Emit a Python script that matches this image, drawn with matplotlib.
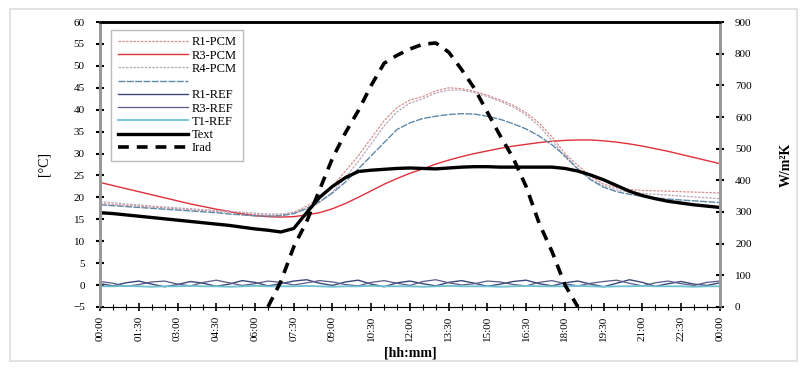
import numpy as np
import matplotlib
matplotlib.use("Agg")
from matplotlib import pyplot as plt
from matplotlib.patches import Rectangle

# half-hour steps, 00:00 .. 24:00
hours = np.arange(0, 24.5, 0.5)

r1_pcm = [18.6, 18.4, 18.2, 18.0, 17.8, 17.6, 17.4, 17.2, 17.0, 16.8, 16.6, 16.4, 16.1,
          15.9, 16.0, 16.6, 18.0, 19.8, 22.5, 26.0, 29.5, 33.5, 37.5, 40.5, 42.2, 43.0,
          44.3, 45.0, 44.8, 44.2, 43.3, 42.2, 41.0, 39.3, 37.0, 33.8, 30.0, 27.3, 24.8,
          23.0, 22.2, 21.8, 21.6, 21.5, 21.4, 21.3, 21.2, 21.1, 21.0]
r3_pcm = [23.4, 22.7, 22.0, 21.3, 20.6, 19.9, 19.2, 18.5, 17.9, 17.3, 16.8, 16.2, 15.8,
          15.6, 15.5, 15.6, 16.0, 16.5, 17.4, 18.6, 20.0, 21.5, 23.0, 24.3, 25.5, 26.5,
          27.6, 28.5, 29.3, 30.0, 30.6, 31.2, 31.7, 32.1, 32.5, 32.8, 33.0, 33.1, 33.1,
          32.9, 32.6, 32.2, 31.7, 31.1, 30.5, 29.8, 29.1, 28.4, 27.7]
r4_pcm = [19.0, 18.8, 18.5, 18.3, 18.0, 17.8, 17.6, 17.4, 17.2, 17.0, 16.8, 16.6, 16.4,
          16.2, 16.2, 16.4, 17.2, 18.8, 21.2, 24.5, 28.2, 32.2, 36.3, 39.5, 41.5, 42.5,
          43.8, 44.5, 44.5, 43.9, 43.0, 41.9, 40.6, 38.8, 36.3, 33.0, 29.2, 26.5, 24.2,
          22.6, 21.7, 21.2, 20.9, 20.7, 20.5, 20.3, 20.1, 19.9, 19.7]
blank = [18.3, 18.1, 17.9, 17.7, 17.5, 17.3, 17.1, 16.9, 16.7, 16.5, 16.2, 16.0, 15.8,
         15.7, 15.8, 16.3, 17.5, 19.0, 21.0, 23.5, 26.5, 29.5, 32.5, 35.5, 37.0, 38.0,
         38.5, 38.9, 39.1, 39.0, 38.5, 37.8, 36.8, 35.6, 34.0, 32.0, 29.5, 26.5, 24.0,
         22.3, 21.3, 20.7, 20.2, 19.9, 19.6, 19.4, 19.2, 19.0, 18.8]
r1_ref = [0.3, -0.2, 0.5, 0.9, 0.2, -0.4, 0.1, 0.8, 0.4, -0.3, 0.2, 1.0, 0.6, -0.2, 0.3,
          0.9, 1.2, 0.4, -0.1, 0.7, 1.1, 0.2, -0.4, 0.5, 0.9, 0.3, -0.2, 0.6, 1.0, 0.4,
          -0.3, 0.2, 0.8, 1.1, 0.3, -0.2, 0.5, 0.9, 0.2, -0.4, 0.4, 1.2, 0.6, -0.3, 0.3,
          0.8, 0.2, -0.1, 0.5]
r3_ref = [0.8, 0.4, -0.3, 0.1, 0.7, 0.9, 0.2, -0.2, 0.6, 1.1, 0.5, -0.1, 0.3, 0.9, 0.6,
          0.0, 0.5, 1.0, 0.7, 0.1, -0.2, 0.6, 1.0, 0.4, -0.1, 0.8, 1.2, 0.5, 0.0, 0.3,
          0.9, 0.7, 0.1, -0.2, 0.6, 1.0, 0.3, -0.2, 0.4, 0.8, 1.1, 0.4, -0.2, 0.5, 0.9,
          0.3, -0.1, 0.6, 0.9]
t1_ref = [-0.3, -0.3, -0.2, -0.3, -0.4, -0.3, -0.3, -0.2, -0.3, -0.3, -0.4, -0.3, -0.2,
          -0.3, -0.3, -0.3, -0.2, -0.3, -0.4, -0.3, -0.3, -0.2, -0.3, -0.3, -0.3, -0.4,
          -0.3, -0.2, -0.3, -0.3, -0.3, -0.4, -0.3, -0.2, -0.3, -0.3, -0.3, -0.2, -0.3,
          -0.4, -0.3, -0.3, -0.2, -0.3, -0.3, -0.3, -0.4, -0.3, -0.3]
text_t = [16.5, 16.3, 16.0, 15.7, 15.4, 15.1, 14.8, 14.5, 14.2, 13.9, 13.6, 13.2, 12.8,
          12.5, 12.1, 12.9, 16.5, 20.0, 22.5, 24.5, 25.9, 26.2, 26.4, 26.6, 26.7, 26.6,
          26.5, 26.7, 26.9, 27.0, 27.0, 26.9, 26.9, 26.9, 26.9, 26.9, 26.6, 26.0, 25.1,
          24.0, 22.7, 21.4, 20.4, 19.7, 19.1, 18.7, 18.3, 18.0, 17.7]
irad = [np.nan] * 13 + [0, 80, 190, 270, 370, 470, 550, 620, 700, 770, 795, 815, 830,
        834, 805, 750, 690, 615, 540, 470, 380, 265, 175, 70, 0] + [np.nan] * 11

labels = ["R1-PCM", "R3-PCM", "R4-PCM", "", "R1-REF", "R3-REF", "T1-REF", "Text", "Irad"]
tick_labels = ["00:00", "01:30", "03:00", "04:30", "06:00", "07:30", "09:00", "10:30",
               "12:00", "13:30", "15:00", "16:30", "18:00", "19:30", "21:00", "22:30", "00:00"]

plt.rcParams['font.family'] = ['Liberation Serif', 'DejaVu Serif']

fig = plt.figure(figsize=(8.07, 3.68), dpi=100)
fig.patches.append(Rectangle((0.012, 0.02), 0.976, 0.955, transform=fig.transFigure,
                             fill=False, edgecolor='#dddddd', lw=1.2))
ax = fig.add_axes([0.124, 0.166, 0.768, 0.774])
ax2 = ax.twinx()

h = []
h += ax.plot(hours, r1_pcm, color='#d98f8f', lw=0.9, ls=(0, (2, 1)))
h += ax.plot(hours, r3_pcm, color='#e0303c', lw=1.0)
h += ax.plot(hours, r4_pcm, color='#b8a8b8', lw=0.9, ls=(0, (2, 1)))
h += ax.plot(hours, blank, color='#5f8aa8', lw=1.0, ls=(0, (5, 1)))
h += ax.plot(hours, r1_ref, color='#3a4a78', lw=1.0)
h += ax.plot(hours, r3_ref, color='#5a5a88', lw=0.9)
h += ax.plot(hours, t1_ref, color='#6cc0d0', lw=1.3)
h += ax.plot(hours, text_t, color='black', lw=2.4)
h += ax2.plot(hours, irad, color='black', lw=2.6, ls=(0, (3, 2.2)))

ax.set_xlim(0, 24)
ax.set_ylim(-5, 60)
ax.set_yticks(np.arange(-5, 61, 5))
ax2.set_ylim(0, 900)
ax2.set_yticks(np.arange(0, 901, 100))

ax.set_xticks(np.arange(0, 24.1, 1.5))
ax.set_xticklabels(tick_labels, rotation=90, fontsize=8)
ax.set_xticks(np.arange(0, 24.1, 0.5), minor=True)
ax.tick_params(axis='x', which='major', direction='inout', length=6, width=1.2)
ax.tick_params(axis='x', which='minor', direction='inout', length=4, width=0.8)
ax.tick_params(axis='y', direction='inout', length=6, width=1.5, labelsize=8, pad=8)
ax2.tick_params(axis='y', direction='inout', length=6, width=1.5, labelsize=8, pad=8)

for sp in ['left', 'right']:
    ax.spines[sp].set_color('#999999')
    ax.spines[sp].set_linewidth(2)
    ax2.spines[sp].set_color('#999999')
    ax2.spines[sp].set_linewidth(2)
ax.spines['top'].set_linewidth(1.8)
ax2.spines['top'].set_linewidth(1.8)
ax.spines['bottom'].set_color('#bbbbbb')

ax.set_ylabel('[°C]', fontsize=10, labelpad=16)
ax.set_xlabel('[hh:mm]', fontsize=10, fontweight='bold', labelpad=4)
ax2.set_ylabel('W/m²K', fontsize=10, fontweight='bold', labelpad=20)

leg = ax.legend(h, labels, loc='upper left', bbox_to_anchor=(0.012, 0.985), fontsize=9,
                handlelength=5.6, handletextpad=0.3, labelspacing=0.1,
                fancybox=False, edgecolor='#aaaaaa', borderpad=0.5, borderaxespad=0.3)
leg.get_frame().set_linewidth(1.0)

plt.savefig('out.png', dpi=100)
